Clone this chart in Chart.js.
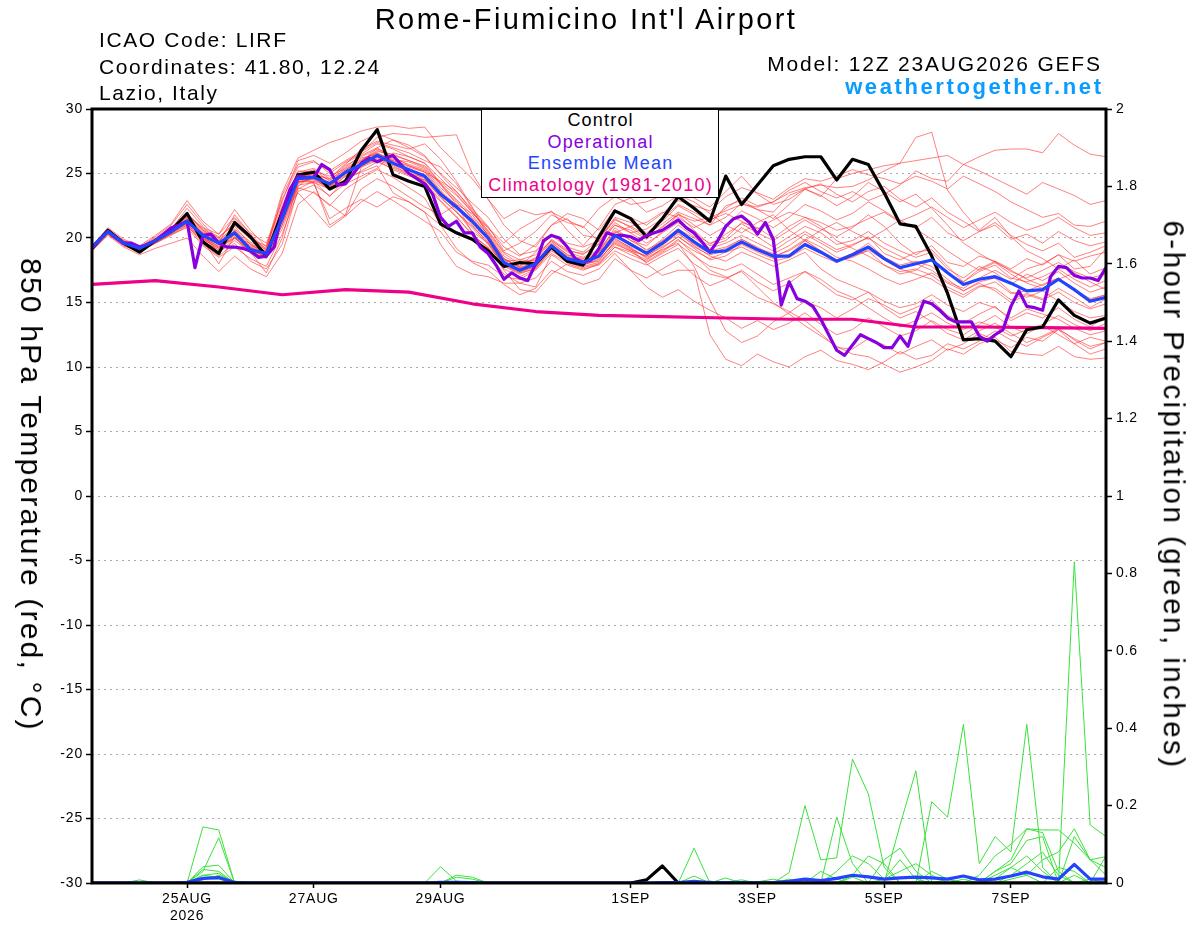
<!DOCTYPE html>
<html>
<head>
<meta charset="utf-8">
<title>Rome-Fiumicino Int'l Airport - GEFS 850 hPa Temperature</title>
<script src="https://cdn.jsdelivr.net/npm/chart.js@4/dist/chart.umd.min.js"></script>
<style>
  body { margin: 0; background: #fff; }
  #wrap { position: relative; width: 1200px; height: 927px; overflow: hidden; background: #fff;
          font-family: "Liberation Sans", Arial, Helvetica, sans-serif; color: #000; }
  #c { position: absolute; left: 0; top: 0; }
  .t { position: absolute; white-space: nowrap; line-height: 1; }
  .legendBox { position: absolute; left: 481px; top: 109px; width: 238px; height: 89px;
               border: 1.5px solid #000; background: #fff; box-sizing: border-box; }
  .lg { font-size: 18px; letter-spacing: 1.2px; left: 600.6px; transform: translateX(-50%); }
</style>
</head>
<body>
<div id="wrap">
  <canvas id="c" width="1200" height="927"></canvas>

  <div class="t" style="font-size:29px;letter-spacing:2.4px;left:586px;top:4.8px;transform:translateX(-50%);">Rome-Fiumicino Int'l Airport</div>
  <div class="t" style="font-size:21px;letter-spacing:1.6px;left:99px;top:28.9px;">ICAO Code: LIRF</div>
  <div class="t" style="font-size:21px;letter-spacing:1.6px;left:99px;top:55.5px;">Coordinates: 41.80, 12.24</div>
  <div class="t" style="font-size:21px;letter-spacing:1.6px;left:99px;top:82.2px;">Lazio, Italy</div>
  <div class="t" style="font-size:21px;letter-spacing:1.8px;right:98.2px;top:52.9px;">Model: 12Z 23AUG2026 GEFS</div>
  <div class="t" style="font-size:22px;font-weight:bold;letter-spacing:2.6px;right:96.4px;top:75.9px;color:#0a9cff;">weathertogether.net</div>

  <div class="legendBox"></div>
  <div class="t lg" style="top:111.3px;color:#000;">Control</div>
  <div class="t lg" style="top:132.8px;color:#8800dd;">Operational</div>
  <div class="t lg" style="top:154.3px;color:#2244ff;">Ensemble Mean</div>
  <div class="t lg" style="top:175.6px;color:#ee0088;">Climatology (1981-2010)</div>

  <div class="t" style="font-size:30px;letter-spacing:2.2px;left:30.8px;top:495px;transform:translate(-50%,-50%) rotate(90deg);">850 hPa Temperature (red, °C)</div>
  <div class="t" style="font-size:29.5px;letter-spacing:2.45px;left:1174px;top:495px;transform:translate(-50%,-50%) rotate(90deg);">6-hour Precipitation (green, inches)</div>
</div>

<script>
// ---------------- DATA ----------------
// x axis: forecast hour from 12Z 23AUG2026 (6-hourly for ensemble, 3-hourly for operational)
const tickHours  = [36, 84, 132, 204, 252, 300, 348];
const tickLabels = [['25AUG', '2026'], '27AUG', '29AUG', '1SEP', '3SEP', '5SEP', '7SEP'];

// 850 hPa temperature (deg C), 6-hourly, 65 values
const controlTemp = [19.2,20.6,19.6,18.9,19.8,20.6,21.9,19.7,18.8,21.2, 20.1,18.6,22.0,24.9,25.1,23.8,24.4,26.8,28.4,24.9, 24.4,24.0,21.1,20.4,19.9,19.0,17.8,18.1,18.0,19.3, 18.2,17.9,20.1,22.1,21.5,20.1,21.5,23.2,22.3,21.3, 24.8,22.6,24.1,25.6,26.1,26.3,26.3,24.5,26.1,25.7, 23.5,21.1,20.9,18.6,15.7,12.1,12.2,12.0,10.8,12.9, 13.1,15.2,14.0,13.4,13.8];

const meanTemp = [19.3,20.5,19.6,19.2,19.8,20.5,21.3,20.2,19.6,20.4, 19.1,18.8,21.5,24.6,24.7,24.2,25.1,25.7,26.4,25.8, 25.3,24.8,23.4,22.4,21.3,20.0,18.1,17.5,18.0,19.4, 18.4,18.1,18.6,20.2,19.5,18.8,19.6,20.6,19.7,18.9, 19.0,19.7,19.1,18.6,18.6,19.5,18.9,18.2,18.7,19.3, 18.4,17.7,18.0,18.3,17.3,16.4,16.8,17.0,16.5,15.9, 16.0,16.8,16.0,15.1,15.4];

// operational run, 3-hourly, 129 values
const operTemp = [19.2,19.9,20.5,20.0,19.6,19.6,19.3,19.5,19.8,20.3, 20.8,21.0,21.3,17.7,20.2,20.3,19.6,19.3,19.3,19.2, 19.0,18.5,18.6,19.3,22.0,23.8,24.8,24.7,24.7,25.7, 25.3,24.1,24.2,25.0,25.8,26.2,25.9,26.2,26.4,25.7, 25.0,24.6,24.2,23.4,21.6,20.9,21.3,20.4,20.4,19.3, 18.8,17.9,16.8,17.3,16.9,16.7,18.0,19.8,20.2,20.0, 19.3,18.4,18.1,18.3,19.2,20.4,20.2,20.2,20.1,19.8, 20.2,20.4,20.6,21.0,21.4,20.8,20.4,19.7,18.9,19.8, 20.9,21.5,21.7,21.2,20.3,21.2,19.9,14.8,16.6,15.3, 15.1,14.7,13.7,12.5,11.3,10.9,11.7,12.5,12.2,11.9, 11.5,11.5,12.4,11.6,13.5,15.1,14.9,14.4,13.8,13.5, 13.5,13.5,12.4,12.0,12.5,12.9,14.7,15.9,14.7,14.6, 14.4,17.0,17.8,17.7,17.1,16.9,16.9,16.7,17.7];

// climatology (1981-2010), daily values starting at hour 0
const climTemp = [16.4,16.7,16.2,15.6,16.0,15.8,14.9,14.3,14.0,13.9,13.8,13.7,13.7,13.1,13.1,13.05,13.0];

// ensemble members, 6-hourly, 65 values each
const member01 = [19.2,20.6,19.7,19.0,19.9,20.8,21.8,20.6,19.8,20.9,19.5,18.7, 21.9,24.9,25.3,24.4,25.6,26.3,26.9,26.4,26.0,25.6,24.3,23.3, 22.0,20.6,18.9,18.3,18.7,19.8,19.0,18.8,19.5,21.0,20.6,19.9, 20.9,21.8,21.3,21.6,22.1,22.6,22.4,22.8,23.5,23.9,24.1,23.9, 24.0,24.5,25.2,25.8,26.0,26.2,26.4,25.7,26.3,26.8,26.9,26.9, 26.6,28.1,27.2,26.5,26.3];
const member02 = [19.1,20.4,19.5,18.9,19.7,20.4,21.1,19.9,19.2,20.0,18.9,18.5, 21.0,24.3,24.8,23.9,24.8,25.9,27.0,27.6,27.2,26.4,24.9,23.6, 22.2,20.8,19.3,18.6,19.5,21.0,21.5,20.2,20.0,21.4,20.9,20.2, 21.1,22.0,21.5,21.0,22.5,22.9,22.2,22.0,23.3,23.8,23.2,24.6, 25.0,25.3,25.6,25.8,27.8,28.2,23.7,22.0,20.6,21.6,20.1,19.0, 18.4,17.6,18.3,17.2,17.7];
const member03 = [19.4,20.7,19.8,19.3,20.1,21.0,22.6,21.1,19.9,21.5,20.2,19.0, 23.3,25.7,26.0,25.0,25.9,26.6,27.8,28.1,28.0,27.8,27.9,28.0, 25.0,23.0,21.0,19.8,19.3,21.0,21.9,21.5,20.6,22.2,21.6,21.0, 21.9,22.9,22.5,22.1,23.2,23.9,23.5,23.0,23.9,24.6,24.4,24.8, 25.3,24.9,24.6,24.2,24.8,24.4,23.8,24.8,24.2,23.6,22.8,22.2, 21.6,21.9,21.0,20.9,21.3];
const member04 = [19.0,20.3,19.4,18.9,19.6,20.3,21.5,20.0,19.0,20.6,19.3,18.6, 21.4,24.6,25.0,24.0,25.3,26.1,26.6,26.0,25.5,25.1,24.4,23.6, 22.1,20.5,18.8,18.0,18.3,19.7,18.7,18.4,19.0,20.4,20.9,21.2, 22.0,21.6,20.8,21.4,21.9,21.3,20.7,21.4,22.0,21.6,21.2,20.6, 20.9,21.5,22.0,21.2,20.8,21.6,20.4,19.8,20.5,21.0,19.9,20.3, 19.6,20.5,19.8,19.4,19.7];
const member05 = [19.3,20.6,19.6,19.1,19.9,20.6,21.2,20.4,19.7,20.2,19.4,19.0, 22.3,25.0,24.2,21.5,22.3,23.0,22.4,23.2,22.8,22.0,21.0,20.3, 19.8,19.2,18.2,18.3,18.2,19.2,18.5,18.1,18.9,20.8,19.8,19.4, 20.5,21.8,20.6,19.5,20.3,21.1,20.4,19.8,20.6,21.4,20.7,20.1, 20.8,21.8,20.9,19.6,18.7,19.4,18.1,17.8,18.6,18.2,17.6,18.4, 17.9,18.7,17.6,17.8,19.2];
const member06 = [19.2,20.5,19.5,19.0,19.8,20.4,21.6,20.3,18.8,20.0,19.6,18.9, 21.8,24.4,24.3,21.0,21.8,25.5,26.0,25.3,24.8,24.5,23.5,22.1, 20.5,19.6,17.9,17.3,17.6,19.0,18.2,17.9,18.4,19.6,19.0,18.6, 19.4,20.5,19.7,19.0,19.3,19.9,19.2,18.8,19.4,20.3,19.6,18.9, 19.4,20.1,18.8,18.3,18.9,19.1,17.8,16.6,17.4,17.9,16.9,16.6, 17.0,17.6,16.8,16.2,16.7];
const member07 = [19.4,20.5,19.7,19.3,19.9,20.7,21.9,20.7,20.1,21.0,19.9,19.4, 22.5,25.2,25.1,24.2,25.5,26.4,27.0,26.2,25.7,25.3,23.9,22.8, 21.6,20.3,18.4,17.7,18.1,19.5,18.6,18.2,18.7,20.5,20.0,19.0, 19.9,21.0,20.1,19.4,19.8,20.8,20.1,19.3,20.1,20.9,20.4,19.5, 19.8,20.5,19.6,19.0,18.5,18.9,17.6,16.9,17.8,17.3,16.4,17.2, 16.7,17.4,16.5,15.8,16.2];
const member08 = [19.1,20.4,19.6,19.1,19.7,20.3,21.0,19.5,18.6,19.6,18.2,17.6, 19.5,23.8,24.4,23.2,24.6,25.1,25.6,23.5,22.8,22.0,19.5,17.8, 17.2,17.0,16.5,16.5,16.2,18.7,17.9,17.5,18.0,19.3,18.7,18.2, 18.9,19.8,19.0,18.4,18.9,19.3,18.7,18.2,18.5,19.2,18.6,18.1, 18.6,19.0,17.9,17.4,17.6,17.1,16.2,15.6,16.3,16.1,15.2,15.7, 15.3,16.1,15.4,14.6,15.3];
const member09 = [19.3,20.5,19.6,19.2,19.8,20.5,21.4,20.0,19.4,20.5,19.2,18.8, 21.6,24.8,24.6,24.1,25.0,25.8,26.6,25.9,25.2,24.6,23.1,22.0, 20.8,19.5,17.8,17.2,17.7,19.2,18.3,18.0,18.2,19.8,19.2,18.5, 19.1,19.6,17.8,15.2,12.8,11.9,12.4,13.5,14.2,15.1,14.6,13.8, 14.5,15.3,14.8,14.1,14.6,15.2,14.0,13.4,14.1,14.7,13.6,14.2, 13.8,14.6,13.7,13.1,13.9];
const member10 = [19.2,20.4,19.5,19.1,19.8,20.6,21.1,19.8,18.9,19.8,18.9,17.3, 20.0,24.3,24.6,23.7,24.8,25.5,26.3,25.7,25.1,24.4,22.9,21.7, 20.2,19.3,17.5,16.0,15.8,17.2,18.0,17.6,17.9,19.0,18.4,17.9, 18.6,19.2,18.0,17.2,16.9,17.4,16.2,15.0,14.1,13.2,12.4,11.6, 11.0,10.8,10.2,9.6,10.0,10.5,11.4,11.0,11.8,12.3,11.2,11.0, 10.9,11.6,10.8,10.6,10.7];
const member11 = [19.3,20.6,19.7,19.3,20.0,20.8,21.6,20.4,19.5,20.6,19.5,18.9, 22.0,24.7,24.9,24.3,25.2,26.0,26.8,26.3,25.6,25.2,23.7,22.5, 21.1,19.8,18.0,17.4,17.8,19.3,18.4,18.0,18.5,19.9,19.3,18.4, 19.0,19.9,18.7,17.5,17.0,16.2,15.4,14.9,14.3,13.6,12.6,11.5, 11.4,12.2,11.7,11.0,11.6,12.1,11.3,11.8,12.6,12.1,11.5,12.3, 12.0,12.9,12.2,11.6,11.9];
const member12 = [19.2,20.5,19.6,19.2,19.8,20.5,21.3,20.1,19.5,20.3,19.1,18.7, 21.7,24.6,25.2,24.8,25.4,26.2,26.5,26.1,25.9,25.4,24.1,22.9, 21.5,20.1,18.3,17.8,18.5,19.8,18.9,18.5,19.1,20.6,19.8,19.1, 19.7,20.4,19.4,18.6,18.2,18.9,18.4,17.8,18.3,18.9,17.6,16.8, 16.3,15.8,15.1,14.6,14.9,15.6,14.8,14.3,15.0,14.6,13.8,14.5, 14.1,13.7,13.0,12.5,12.8];
const member13 = [19.4,20.6,19.8,19.3,19.9,20.6,21.7,20.5,19.8,20.7,19.7,19.1, 22.2,25.1,25.4,24.6,25.8,26.5,27.3,26.9,26.3,25.8,24.6,23.4, 22.0,20.4,18.6,17.9,18.4,19.9,19.1,18.7,19.6,21.2,20.4,19.6, 20.4,21.2,20.3,19.6,20.0,21.2,20.8,20.0,20.9,21.6,20.9,19.8, 19.2,18.6,17.9,17.2,17.5,18.4,17.3,16.6,17.6,18.2,17.4,16.9, 17.5,18.1,17.4,16.9,17.2];
const member14 = [19.1,20.3,19.4,19.0,19.6,20.2,20.9,19.8,18.0,20.1,18.8,18.5, 20.7,23.9,23.5,22.6,21.7,22.8,23.6,22.9,22.1,21.3,20.5,18.9, 18.2,17.9,17.0,16.8,17.5,18.8,18.1,17.7,18.0,19.3,18.9,18.3, 19.2,20.1,19.2,18.3,18.6,19.5,18.9,18.4,18.7,19.8,19.0,18.3, 18.8,19.6,18.5,17.9,18.2,17.8,16.8,15.9,16.6,16.9,15.8,15.4, 15.9,15.1,14.3,13.8,14.0];
const member15 = [19.3,20.5,19.6,19.2,19.8,20.4,21.2,20.0,19.3,20.1,19.0,18.6, 21.3,24.5,24.5,24.0,25.0,25.6,26.2,25.6,25.0,24.5,23.2,22.0, 20.9,19.7,18.0,17.4,17.9,19.3,18.4,18.1,18.5,20.0,19.2,18.0, 17.1,17.5,17.5,12.5,10.6,10.1,11.0,10.4,10.0,10.8,11.3,10.5, 10.2,9.8,10.4,11.2,10.6,10.9,11.8,11.4,12.0,12.8,12.1,11.6, 12.3,12.9,11.8,11.0,11.4];
const member16 = [19.2,20.5,19.6,19.1,19.8,20.6,21.5,20.3,19.6,20.5,19.2,18.8, 21.5,24.4,24.4,24.0,24.9,25.6,26.1,25.5,25.0,24.7,23.5,22.6, 21.2,19.9,18.1,17.5,18.0,19.5,18.5,18.2,18.8,20.3,19.6,18.8, 19.5,20.3,19.5,18.8,19.2,19.9,19.3,18.6,19.0,19.8,19.0,18.2, 18.5,19.1,18.3,17.6,17.2,16.8,16.0,15.4,16.2,16.6,15.7,15.9, 16.4,16.9,16.0,15.3,15.6];
const member17 = [19.3,20.4,19.7,19.2,19.9,20.7,21.9,20.6,20.0,21.2,20.0,19.2, 23.0,25.5,25.9,25.2,26.0,26.7,27.4,27.0,26.6,26.0,25.5,24.2, 22.3,20.9,19.0,19.6,20.5,21.8,21.2,20.9,19.7,21.5,20.8,20.0, 20.8,21.9,21.0,20.2,20.9,22.1,21.5,20.8,21.6,22.6,22.1,21.4, 21.9,22.8,22.1,21.3,21.8,22.4,21.6,20.8,21.4,22.0,21.2,20.6, 21.0,21.6,20.8,20.2,20.4];
const member18 = [19.2,20.4,19.5,19.0,19.7,20.4,21.0,19.7,19.1,20.3,19.0,18.6, 21.2,24.1,24.3,23.8,24.5,25.2,25.9,25.4,24.9,24.2,22.8,21.6, 20.3,19.2,17.6,17.0,17.6,19.1,18.2,17.8,18.1,19.5,19.0,18.1, 18.8,19.5,18.6,17.8,17.5,18.0,17.2,16.4,16.9,17.4,16.8,15.9, 15.4,14.6,13.8,13.1,13.6,14.2,13.4,12.9,13.5,13.1,12.4,12.9, 13.3,14.0,13.3,12.8,13.4];
const member19 = [19.3,20.5,19.6,19.2,19.9,20.5,21.4,20.2,19.6,20.4,19.3,18.9, 21.8,24.8,25.0,24.5,25.3,26.0,26.7,26.5,26.0,25.5,24.2,23.0, 21.8,20.2,18.4,17.7,18.1,19.6,18.7,18.3,18.9,20.2,19.6,18.9, 19.8,20.7,20.0,19.2,19.6,20.2,19.6,19.0,19.8,20.5,19.8,19.1, 19.5,20.0,19.2,18.6,18.0,17.5,16.6,16.1,16.9,17.5,16.8,17.6, 18.0,18.7,18.2,18.6,18.9];
const member20 = [19.2,20.6,19.5,19.1,19.8,20.6,21.3,19.9,19.2,20.3,19.0,18.7, 21.5,24.2,24.7,23.8,25.1,25.9,26.4,26.0,25.6,25.1,23.6,22.4, 21.0,19.6,17.9,17.3,17.8,19.2,18.3,17.9,18.3,19.7,19.1,18.6, 19.3,20.1,19.3,18.7,19.0,19.6,19.0,18.5,19.1,19.9,19.3,18.5, 18.2,17.6,16.9,16.4,16.8,17.3,16.5,15.9,16.5,15.9,15.0,15.6, 15.2,15.8,15.0,14.5,14.9];
const member21 = [19.4,20.8,19.9,19.4,20.2,21.1,22.9,21.3,20.3,22.2,20.6,19.3, 23.5,26.2,26.8,27.4,27.8,28.3,28.6,28.7,28.5,28.6,27.0,25.8, 24.6,23.0,21.5,22.2,21.8,22.0,21.4,20.8,22.3,23.2,22.6,22.8, 23.3,24.0,23.1,22.4,23.6,24.8,23.4,22.6,23.0,23.8,24.2,23.4, 22.8,23.6,24.0,23.0,22.4,23.1,22.0,21.3,20.5,21.2,20.2,19.5, 19.0,19.6,18.5,18.9,19.4];
const member22 = [19.0,20.2,19.3,18.7,19.2,19.6,20.0,18.6,17.4,18.6,17.6,17.0, 18.8,22.6,23.6,22.5,23.8,24.6,25.3,24.7,23.9,23.1,21.0,19.2, 18.1,17.5,16.4,15.6,16.1,17.5,17.0,16.4,16.8,18.4,17.5,16.9, 17.6,18.3,17.1,16.3,16.8,17.5,16.6,15.9,16.5,17.4,16.5,15.6, 15.2,15.8,14.6,13.8,14.3,13.5,12.6,12.1,12.8,13.4,12.6,11.9, 12.4,13.0,12.1,11.4,11.9];
const member23 = [19.3,20.6,19.6,19.1,19.9,20.7,22.3,20.9,19.6,21.8,20.3,19.1, 21.9,23.5,22.2,20.8,21.7,23.8,24.6,24.0,23.2,22.4,21.8,22.6, 21.9,20.8,19.6,20.7,21.4,22.1,20.6,19.4,20.8,22.6,23.1,22.0, 22.5,23.3,22.8,21.9,21.0,20.4,21.2,21.8,20.6,19.8,20.6,21.2, 20.5,19.9,20.6,21.4,20.7,19.9,19.0,18.2,17.5,18.1,17.2,16.5, 16.1,16.8,17.3,16.6,16.0];
const member24 = [19.2,20.5,19.6,19.1,19.8,20.4,21.2,20.1,19.3,20.0,19.0,18.4, 21.0,24.0,24.9,24.6,25.7,26.9,27.5,27.2,26.9,27.3,26.1,24.4, 22.4,20.1,18.4,17.8,18.9,20.3,19.6,19.3,19.8,21.0,20.4,20.7, 21.5,22.6,22.0,21.3,22.3,23.1,22.5,22.8,23.7,24.3,23.6,23.1, 23.6,22.9,23.4,24.1,25.2,24.6,24.4,25.7,25.2,24.6,24.0,23.4, 24.3,23.8,23.3,22.6,22.9];
const member25 = [19.1,20.4,19.5,19.0,19.6,20.3,20.8,19.4,18.5,19.3,18.4,17.8, 20.3,23.6,24.1,23.3,24.2,24.8,25.4,26.6,26.3,25.8,24.2,22.6, 20.4,18.9,17.2,16.5,16.9,18.2,17.4,17.1,17.6,18.8,17.5,16.2, 15.4,16.0,15.1,14.4,13.8,13.0,13.6,12.9,13.4,14.2,13.3,12.5, 12.9,13.8,13.1,12.4,12.8,13.6,12.9,12.5,13.3,14.0,13.1,12.6, 13.2,12.5,11.8,12.3,12.0];
const member26 = [19.3,20.5,19.7,19.3,19.9,20.6,21.8,20.8,20.3,21.6,20.4,19.6, 22.8,26.0,26.4,25.8,26.6,27.5,28.1,27.6,27.0,26.3,25.0,23.9, 22.7,21.6,19.9,18.7,19.0,20.2,19.3,18.9,19.9,21.6,21.2,20.4, 21.3,22.5,21.8,21.0,21.6,22.7,22.2,21.5,22.6,23.8,23.3,22.5, 23.2,24.3,23.6,22.8,23.4,22.3,21.0,19.6,18.8,18.1,17.5,16.8, 16.3,16.9,15.9,15.2,15.6];
const memberTemps = [member01, member02, member03, member04, member05, member06, member07, member08, member09, member10,
                     member11, member12, member13, member14, member15, member16, member17, member18, member19, member20,
                     member21, member22, member23, member24, member25, member26];

// 6-hour precipitation (inches), 6-hourly, 65 values each
const precipMember1 = [0,0,0,0,0,0,0,0.145,0.137,0,0,0,0, 0,0,0,0,0,0,0,0,0,0,0,0,0, 0,0,0,0,0,0,0,0,0,0,0,0,0, 0,0,0,0,0,0,0,0,0,0,0,0,0, 0,0.21,0.17,0.41,0.05,0.12,0.08,0.41,0.04,0,0.83,0.15,0.12];
const precipMember2 = [0,0,0,0,0,0,0,0.03,0.117,0,0,0,0, 0,0,0,0,0,0,0,0,0,0,0,0,0, 0,0,0,0,0,0,0,0,0,0,0,0,0, 0,0,0,0,0,0.027,0.20,0.06,0.065,0.32,0.23,0.04,0, 0,0,0,0.01,0,0.02,0.04,0.07,0.03,0,0.02,0,0];
const precipMember3 = [0,0,0,0,0,0,0,0.042,0.046,0,0,0,0, 0,0,0,0,0,0,0,0,0,0,0,0,0, 0,0,0,0,0,0,0,0,0,0,0,0,0.09, 0,0,0,0,0,0,0,0,0.17,0.05,0,0,0.15, 0.29,0,0,0,0,0.03,0.06,0.14,0.13,0.03,0,0,0];
const precipMember4 = [0,0,0,0,0,0,0,0.02,0.025,0,0,0,0, 0,0,0,0,0,0,0,0,0,0.042,0.005,0,0, 0,0,0,0,0,0,0,0,0,0,0,0,0.018, 0,0.013,0,0,0,0,0,0,0,0,0,0.06,0.09, 0.03,0,0,0,0.02,0.07,0.10,0.14,0.137,0.137,0.103,0.06,0.068];
const precipMember5 = [0,0,0,0.008,0,0,0,0.035,0.03,0,0,0,0, 0,0,0,0,0,0,0,0,0,0,0.02,0.015,0, 0,0,0,0,0,0,0,0,0,0,0,0,0, 0,0,0,0.003,0.01,0,0,0,0,0.02,0.07,0.05,0, 0,0,0.01,0,0,0.03,0.05,0.11,0.12,0,0.12,0.06,0.04];
const precipMember6 = [0,0,0,0,0,0,0,0.02,0.015,0,0,0,0, 0,0,0,0,0,0,0,0,0,0,0,0,0, 0,0,0,0,0,0,0,0,0,0,0,0,0, 0.005,0,0,0,0,0,0,0,0.03,0.07,0.05,0.01,0.03, 0.05,0.02,0,0,0,0.01,0.04,0.02,0.06,0.08,0.14,0.06,0.02];
const precipMember7 = [0,0,0,0,0,0,0,0.012,0.01,0,0,0,0, 0,0,0,0,0,0,0,0,0,0,0,0,0, 0,0,0,0,0,0,0,0,0,0,0,0,0, 0,0,0,0,0,0.01,0,0.03,0.01,0,0,0.01,0.06, 0.01,0,0,0,0,0,0.01,0.02,0,0.04,0.03,0,0.07];
const precipMember8 = [0,0,0,0,0,0,0,0.008,0.02,0.005,0,0,0, 0,0,0,0,0,0,0,0,0,0,0.015,0.01,0, 0,0,0,0,0,0,0,0,0,0,0,0,0, 0,0.003,0.008,0,0,0,0,0,0,0.015,0,0,0, 0,0.03,0.01,0,0,0,0.02,0.05,0.08,0.02,0,0.01,0];
const precipMembers = [precipMember1, precipMember2, precipMember3, precipMember4,
                       precipMember5, precipMember6, precipMember7, precipMember8];
const precipMean = [0,0,0,0,0,0,0.002,0.012,0.014,0.001,0,0,0, 0,0,0,0,0,0,0,0,0,0.002,0.002,0.001,0, 0,0,0,0,0,0,0,0,0,0,0.001,0.001,0.004, 0.001,0.001,0.001,0,0.001,0.004,0.01,0.006,0.012,0.02,0.016,0.01,0.013, 0.015,0.013,0.01,0.018,0.008,0.01,0.018,0.028,0.016,0.01,0.048,0.01,0.01];
const precipControl = [0,0,0,0,0,0,0,0,0,0,0,0,0, 0,0,0,0,0,0,0,0,0,0,0,0,0, 0,0,0,0,0,0,0,0,0,0.008,0.044,0,0, 0,0,0,0,0,0,0,0,0,0,0,0,0, 0,0,0,0,0,0,0,0,0,0,0,0,0];

// ---------------- CHART ----------------
const FONT = '"Liberation Sans", Arial, Helvetica, sans-serif';
const hours6 = controlTemp.map((_, i) => i * 6);
const hours3 = operTemp.map((_, j) => j * 3);
const hoursClim = climTemp.map((_, k) => k * 24);
const pts = (hrs, vals) => vals.map((v, i) => ({ x: hrs[i], y: v }));

const datasets = [];
// thick lines on top (lower order = drawn later / on top)
datasets.push({ label: 'Ensemble Mean', data: pts(hours6, meanTemp), yAxisID: 'y', borderColor: '#2244ff', borderWidth: 3.2, order: 0 });
datasets.push({ label: 'Operational', data: pts(hours3, operTemp), yAxisID: 'y', borderColor: '#8800dd', borderWidth: 3.2, order: 1 });
datasets.push({ label: 'Control', data: pts(hours6, controlTemp), yAxisID: 'y', borderColor: '#000000', borderWidth: 3.2, order: 2 });
datasets.push({ label: 'Climatology (1981-2010)', data: pts(hoursClim, climTemp), yAxisID: 'y', borderColor: '#ee0088', borderWidth: 3.2, order: 3 });
datasets.push({ label: 'Precip Mean', data: pts(hours6, precipMean), yAxisID: 'y2', borderColor: '#2244ff', borderWidth: 3.2, order: 4 });
datasets.push({ label: 'Precip Control', data: pts(hours6, precipControl), yAxisID: 'y2', borderColor: '#000000', borderWidth: 3.2, order: 5 });
precipMembers.forEach((m, k) => datasets.push({ label: 'Precip member ' + (k + 1), data: pts(hours6, m), yAxisID: 'y2', borderColor: 'rgb(60,225,60)', borderWidth: 1, order: 6 }));
memberTemps.forEach((m, k) => datasets.push({ label: 'Member ' + (k + 1), data: pts(hours6, m), yAxisID: 'y', borderColor: 'rgba(255,45,45,0.6)', borderWidth: 1, order: 7 }));

const framePlugin = {
  id: 'frame',
  beforeDraw(chart) { chart.ctx.letterSpacing = '0.8px'; },
  afterDatasetsDraw(chart) {
    const { ctx, chartArea: a } = chart;
    ctx.save();
    ctx.strokeStyle = '#000';
    ctx.lineWidth = 3;
    ctx.strokeRect(a.left, a.top, a.right - a.left, a.bottom - a.top);
    ctx.restore();
  }
};

new Chart(document.getElementById('c'), {
  type: 'line',
  data: { datasets },
  plugins: [framePlugin],
  options: {
    responsive: false,
    animation: false,
    devicePixelRatio: 1,
    layout: { padding: { top: 109, left: 0, right: 0, bottom: 0 } },
    elements: { point: { radius: 0, hoverRadius: 0 }, line: { tension: 0, borderJoinStyle: 'round' } },
    plugins: { legend: { display: false }, tooltip: { enabled: false }, title: { display: false } },
    events: [],
    scales: {
      x: {
        type: 'linear', min: 0, max: 384,
        afterBuildTicks: (s) => { s.ticks = tickHours.map(v => ({ value: v })); },
        afterFit: (s) => { s.height = 44; },
        ticks: { autoSkip: false, maxRotation: 0, minRotation: 0, padding: 3, color: '#000',
                 font: { family: FONT, size: 14 },
                 callback: (v) => { const i = tickHours.indexOf(v); return i >= 0 ? tickLabels[i] : ''; } },
        grid: { drawOnChartArea: false, drawTicks: true, tickLength: 5, tickColor: '#000', tickWidth: 1.5 },
        border: { display: false }
      },
      y: {
        position: 'left', min: -30, max: 30,
        afterFit: (s) => { s.width = 92; },
        ticks: { stepSize: 5, padding: 3, color: '#000', font: { family: FONT, size: 14 },
                 callback: (v) => String(v) },
        grid: { color: '#aaaaaa', lineWidth: 1, drawTicks: true, tickLength: 6, tickColor: '#000', tickWidth: 1.5, tickBorderDash: [] },
        border: { display: false, dash: [2, 4] }
      },
      y2: {
        position: 'right', min: 0, max: 2,
        afterFit: (s) => { s.width = 94; },
        ticks: { stepSize: 0.2, padding: 4, color: '#000', font: { family: FONT, size: 14 },
                 callback: (v) => String(Math.round(v * 10) / 10) },
        grid: { drawOnChartArea: false, drawTicks: true, tickLength: 6, tickColor: '#000', tickWidth: 1.5 },
        border: { display: false }
      }
    }
  }
});
</script>
</body>
</html>
